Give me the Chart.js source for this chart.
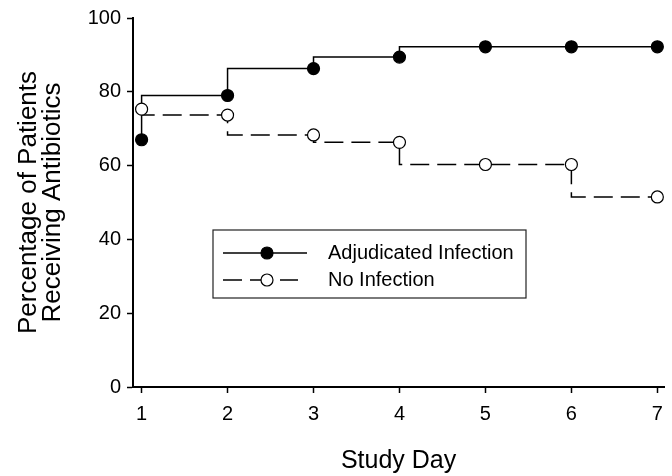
<!DOCTYPE html>
<html lang="en">
<head>
    <meta charset="UTF-8">
    <title>Percentage of Patients Receiving Antibiotics</title>
    <script src="https://cdn.jsdelivr.net/npm/chart.js"></script>
    <style>
        body {
            margin: 0;
            background: white;
        }
        canvas {
            display: block;
        }
    </style>
</head>
<body>
    <canvas id="chart" width="672" height="476"></canvas>

    <script>
        // Datos
        const studyDays = [1, 2, 3, 4, 5, 6, 7];
        const adjudicated = [67, 79, 86.3, 89.4, 92.2, 92.2, 92.2];
        const noInfection = [75.3, 73.7, 68.3, 66.3, 60.3, 60.3, 51.5];
        const yTicks = [0, 20, 40, 60, 80, 100];

        const fontName = "'Liberation Sans', Arial, sans-serif";

        function toPoints(values) {
            return studyDays.map((d, i) => ({ x: d, y: values[i] }));
        }

        // Leyenda dibujada a mano dentro del area del grafico
        const boxLegend = {
            id: 'boxLegend',
            afterDraw(chart) {
                const ctx = chart.ctx;
                const left = 213, top = 230, w = 313, h = 68;
                ctx.save();
                ctx.fillStyle = 'white';
                ctx.fillRect(left, top, w, h);
                ctx.strokeStyle = '#222';
                ctx.lineWidth = 1.2;
                ctx.strokeRect(left, top, w, h);

                const rows = [
                    { label: 'Adjudicated Infection', y: top + 23, dashed: false, fill: 'black' },
                    { label: 'No Infection', y: top + 50, dashed: true, fill: 'white' }
                ];
                rows.forEach(r => {
                    ctx.strokeStyle = 'black';
                    ctx.lineWidth = 1.5;
                    ctx.beginPath();
                    if (r.dashed) {
                        ctx.moveTo(223, r.y); ctx.lineTo(242, r.y);
                        ctx.moveTo(250, r.y); ctx.lineTo(262, r.y);
                        ctx.moveTo(280, r.y); ctx.lineTo(298, r.y);
                    } else {
                        ctx.moveTo(223, r.y); ctx.lineTo(307, r.y);
                    }
                    ctx.stroke();
                    ctx.beginPath();
                    ctx.arc(267, r.y, 6, 0, Math.PI * 2);
                    ctx.fillStyle = r.fill;
                    ctx.fill();
                    ctx.lineWidth = 1.2;
                    ctx.stroke();
                    ctx.fillStyle = 'black';
                    ctx.font = '20px ' + fontName;
                    ctx.textBaseline = 'middle';
                    ctx.fillText(r.label, 328, r.y);
                });
                ctx.restore();
            }
        };

        const ctx = document.getElementById('chart').getContext('2d');
        new Chart(ctx, {
            type: 'line',
            data: {
                datasets: [
                    {
                        label: 'No Infection',
                        data: toPoints(noInfection),
                        stepped: 'after',
                        borderColor: 'black',
                        borderWidth: 1.5,
                        borderDash: [19, 8],
                        pointRadius: 6,
                        pointBackgroundColor: 'white',
                        pointBorderColor: 'black',
                        pointBorderWidth: 1.2,
                        fill: false
                    },
                    {
                        label: 'Adjudicated Infection',
                        data: toPoints(adjudicated),
                        stepped: 'after',
                        borderColor: 'black',
                        borderWidth: 1.5,
                        pointRadius: 6,
                        pointBackgroundColor: 'black',
                        pointBorderColor: 'black',
                        pointBorderWidth: 1.2,
                        fill: false
                    }
                ]
            },
            options: {
                responsive: false,
                animation: false,
                layout: { padding: { top: 15, right: 7, left: 0, bottom: 0 } },
                plugins: {
                    legend: { display: false },
                    tooltip: { enabled: false }
                },
                scales: {
                    x: {
                        type: 'linear',
                        min: 0.9,
                        max: 7.08,
                        afterBuildTicks: s => { s.ticks = studyDays.map(v => ({ value: v })); },
                        afterFit: s => { s.height = 89; },
                        border: { color: 'black', width: 2 },
                        grid: { drawOnChartArea: false, color: 'black', tickLength: 6, tickWidth: 1.5 },
                        ticks: { color: 'black', font: { family: fontName, size: 20 }, padding: 9, maxRotation: 0 },
                        title: {
                            display: true,
                            text: 'Study Day',
                            color: 'black',
                            font: { family: fontName, size: 25 },
                            padding: { top: 12, bottom: 0 }
                        }
                    },
                    y: {
                        min: 0,
                        max: 100,
                        afterBuildTicks: s => { s.ticks = yTicks.map(v => ({ value: v })); },
                        afterFit: s => { s.width = 133; },
                        border: { color: 'black', width: 2 },
                        grid: { drawOnChartArea: false, color: 'black', tickLength: 6, tickWidth: 1.5 },
                        ticks: { color: 'black', font: { family: fontName, size: 20 }, padding: 6 },
                        title: {
                            display: true,
                            text: ['Percentage of Patients', 'Receiving Antibiotics'],
                            color: 'black',
                            font: { family: fontName, size: 26, lineHeight: 0.95 },
                            padding: { top: 16, bottom: 0 }
                        }
                    }
                }
            },
            plugins: [boxLegend]
        });
    </script>
</body>
</html>
